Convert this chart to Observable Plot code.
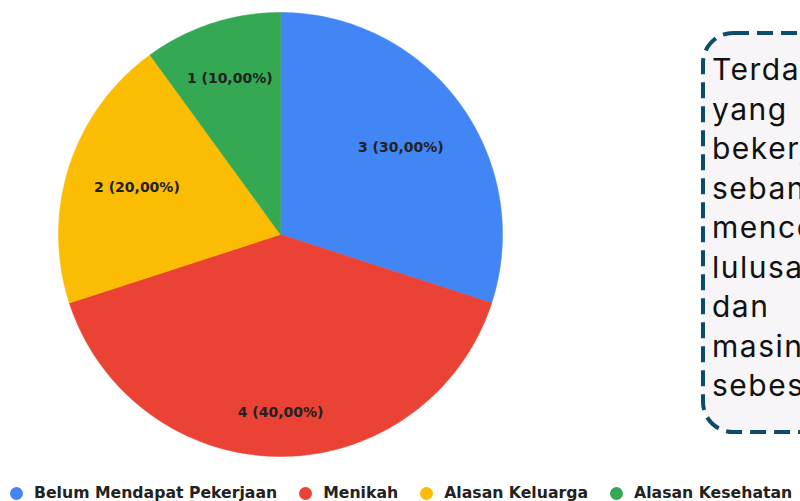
<!DOCTYPE html>
<html>
<head>
<meta charset="utf-8">
<script src="https://cdn.jsdelivr.net/npm/d3@7"></script>
<script src="https://cdn.jsdelivr.net/npm/@observablehq/plot@0.6"></script>
<style>
  html, body { margin: 0; padding: 0; background: #fff; }
  #root { position: relative; width: 800px; height: 501px; overflow: hidden; }
  #chart svg { display: block; }
  #legend { position: absolute; left: 10px; top: 484px; height: 18px; line-height: 18px; display: flex; align-items: center;
    font-family: "DejaVu Sans", sans-serif; font-weight: bold; font-size: 15.7px; color: #222; white-space: nowrap; }
  #legend .item { display: flex; align-items: center; margin-right: 22px; }
  #legend .dot { width: 13px; height: 13px; border-radius: 50%; margin-right: 11px; }
  #note { position: absolute; left: 701px; top: 31px; width: 320px; height: 403px; }
  #note svg { position: absolute; left: 0; top: 0; }
  #note .txt { position: absolute; left: 11px; top: 19px; font-family: Inter, sans-serif; font-size: 30px;
    letter-spacing: 1.5px; line-height: 39.5px; color: #111; white-space: nowrap; }
</style>
</head>
<body>
<div id="root">
  <div id="chart"></div>
  <div id="legend"></div>
  <div id="note"></div>
</div>
<script>
// ---- data ----
const categories = ["Belum Mendapat Pekerjaan", "Menikah", "Alasan Keluarga", "Alasan Kesehatan"];
const values = [3, 4, 2, 1];
const colors = ["#4285F4", "#EA4335", "#FBBC04", "#34A853"];
const noteLines = ["Terdapat", "yang", "bekerja", "sebanyak", "mencoba", "lulusan", "dan", "masing-masing", "sebesar"];

// ---- pie geometry via d3.pie ----
const total = d3.sum(values);
const rows = categories.map((c, i) => ({key: c, value: values[i]}));
const arcs = d3.pie().sort(null).value(d => d.value).startAngle(0).endAngle(2 * Math.PI)(rows);

const pts = [];
for (const a of arcs) {
  const n = Math.max(8, Math.ceil((a.endAngle - a.startAngle) / (Math.PI / 180)));
  pts.push({key: a.data.key, x: 0, y: 0});
  for (let k = 0; k <= n; k++) {
    const t = a.startAngle + (a.endAngle - a.startAngle) * k / n;
    pts.push({key: a.data.key, x: Math.sin(t), y: Math.cos(t)});
  }
  pts.push({key: a.data.key, x: 0, y: 0});
}

const labelRadius = {"Belum Mendapat Pekerjaan": 0.67, "Menikah": 0.8, "Alasan Keluarga": 0.68, "Alasan Kesehatan": 0.74};
const fmt = v => (v * 100).toFixed(2).replace(".", ",") + "%";
const labels = arcs.map(a => {
  const m = (a.startAngle + a.endAngle) / 2;
  const r = labelRadius[a.data.key];
  return {x: r * Math.sin(m), y: r * Math.cos(m), text: `${a.data.value} (${fmt(a.data.value / total)})`};
});

const chart = Plot.plot({
  width: 800,
  height: 470,
  margin: 0,
  x: {type: "linear", domain: [-1, 1], range: [58, 502], axis: null},
  y: {type: "linear", domain: [-1, 1], range: [456, 12], axis: null},
  color: {domain: categories, range: colors},
  marks: [
    Plot.line(pts, {x: "x", y: "y", z: "key", fill: "key", stroke: "key", strokeWidth: 0.5}),
    Plot.text(labels, {x: "x", y: "y", text: "text", fontFamily: "DejaVu Sans", fontWeight: "bold", fontSize: 14, fill: "#222"})
  ]
});
document.getElementById("chart").appendChild(chart);

// ---- legend ----
const lg = document.getElementById("legend");
categories.forEach((c, i) => {
  const it = document.createElement("div");
  it.className = "item";
  it.innerHTML = `<span class="dot" style="background:${colors[i]}"></span><span>${c}</span>`;
  lg.appendChild(it);
});

// ---- note box ----
const note = document.getElementById("note");
note.innerHTML = `<svg width="320" height="403"><rect x="2" y="2" width="340" height="399" rx="30" ry="30"
  fill="#f7f5f7" stroke="#0d4b6b" stroke-width="4" stroke-dasharray="16 8"/></svg>
  <div class="txt">${noteLines.join("<br>")}</div>`;
</script>
</body>
</html>
